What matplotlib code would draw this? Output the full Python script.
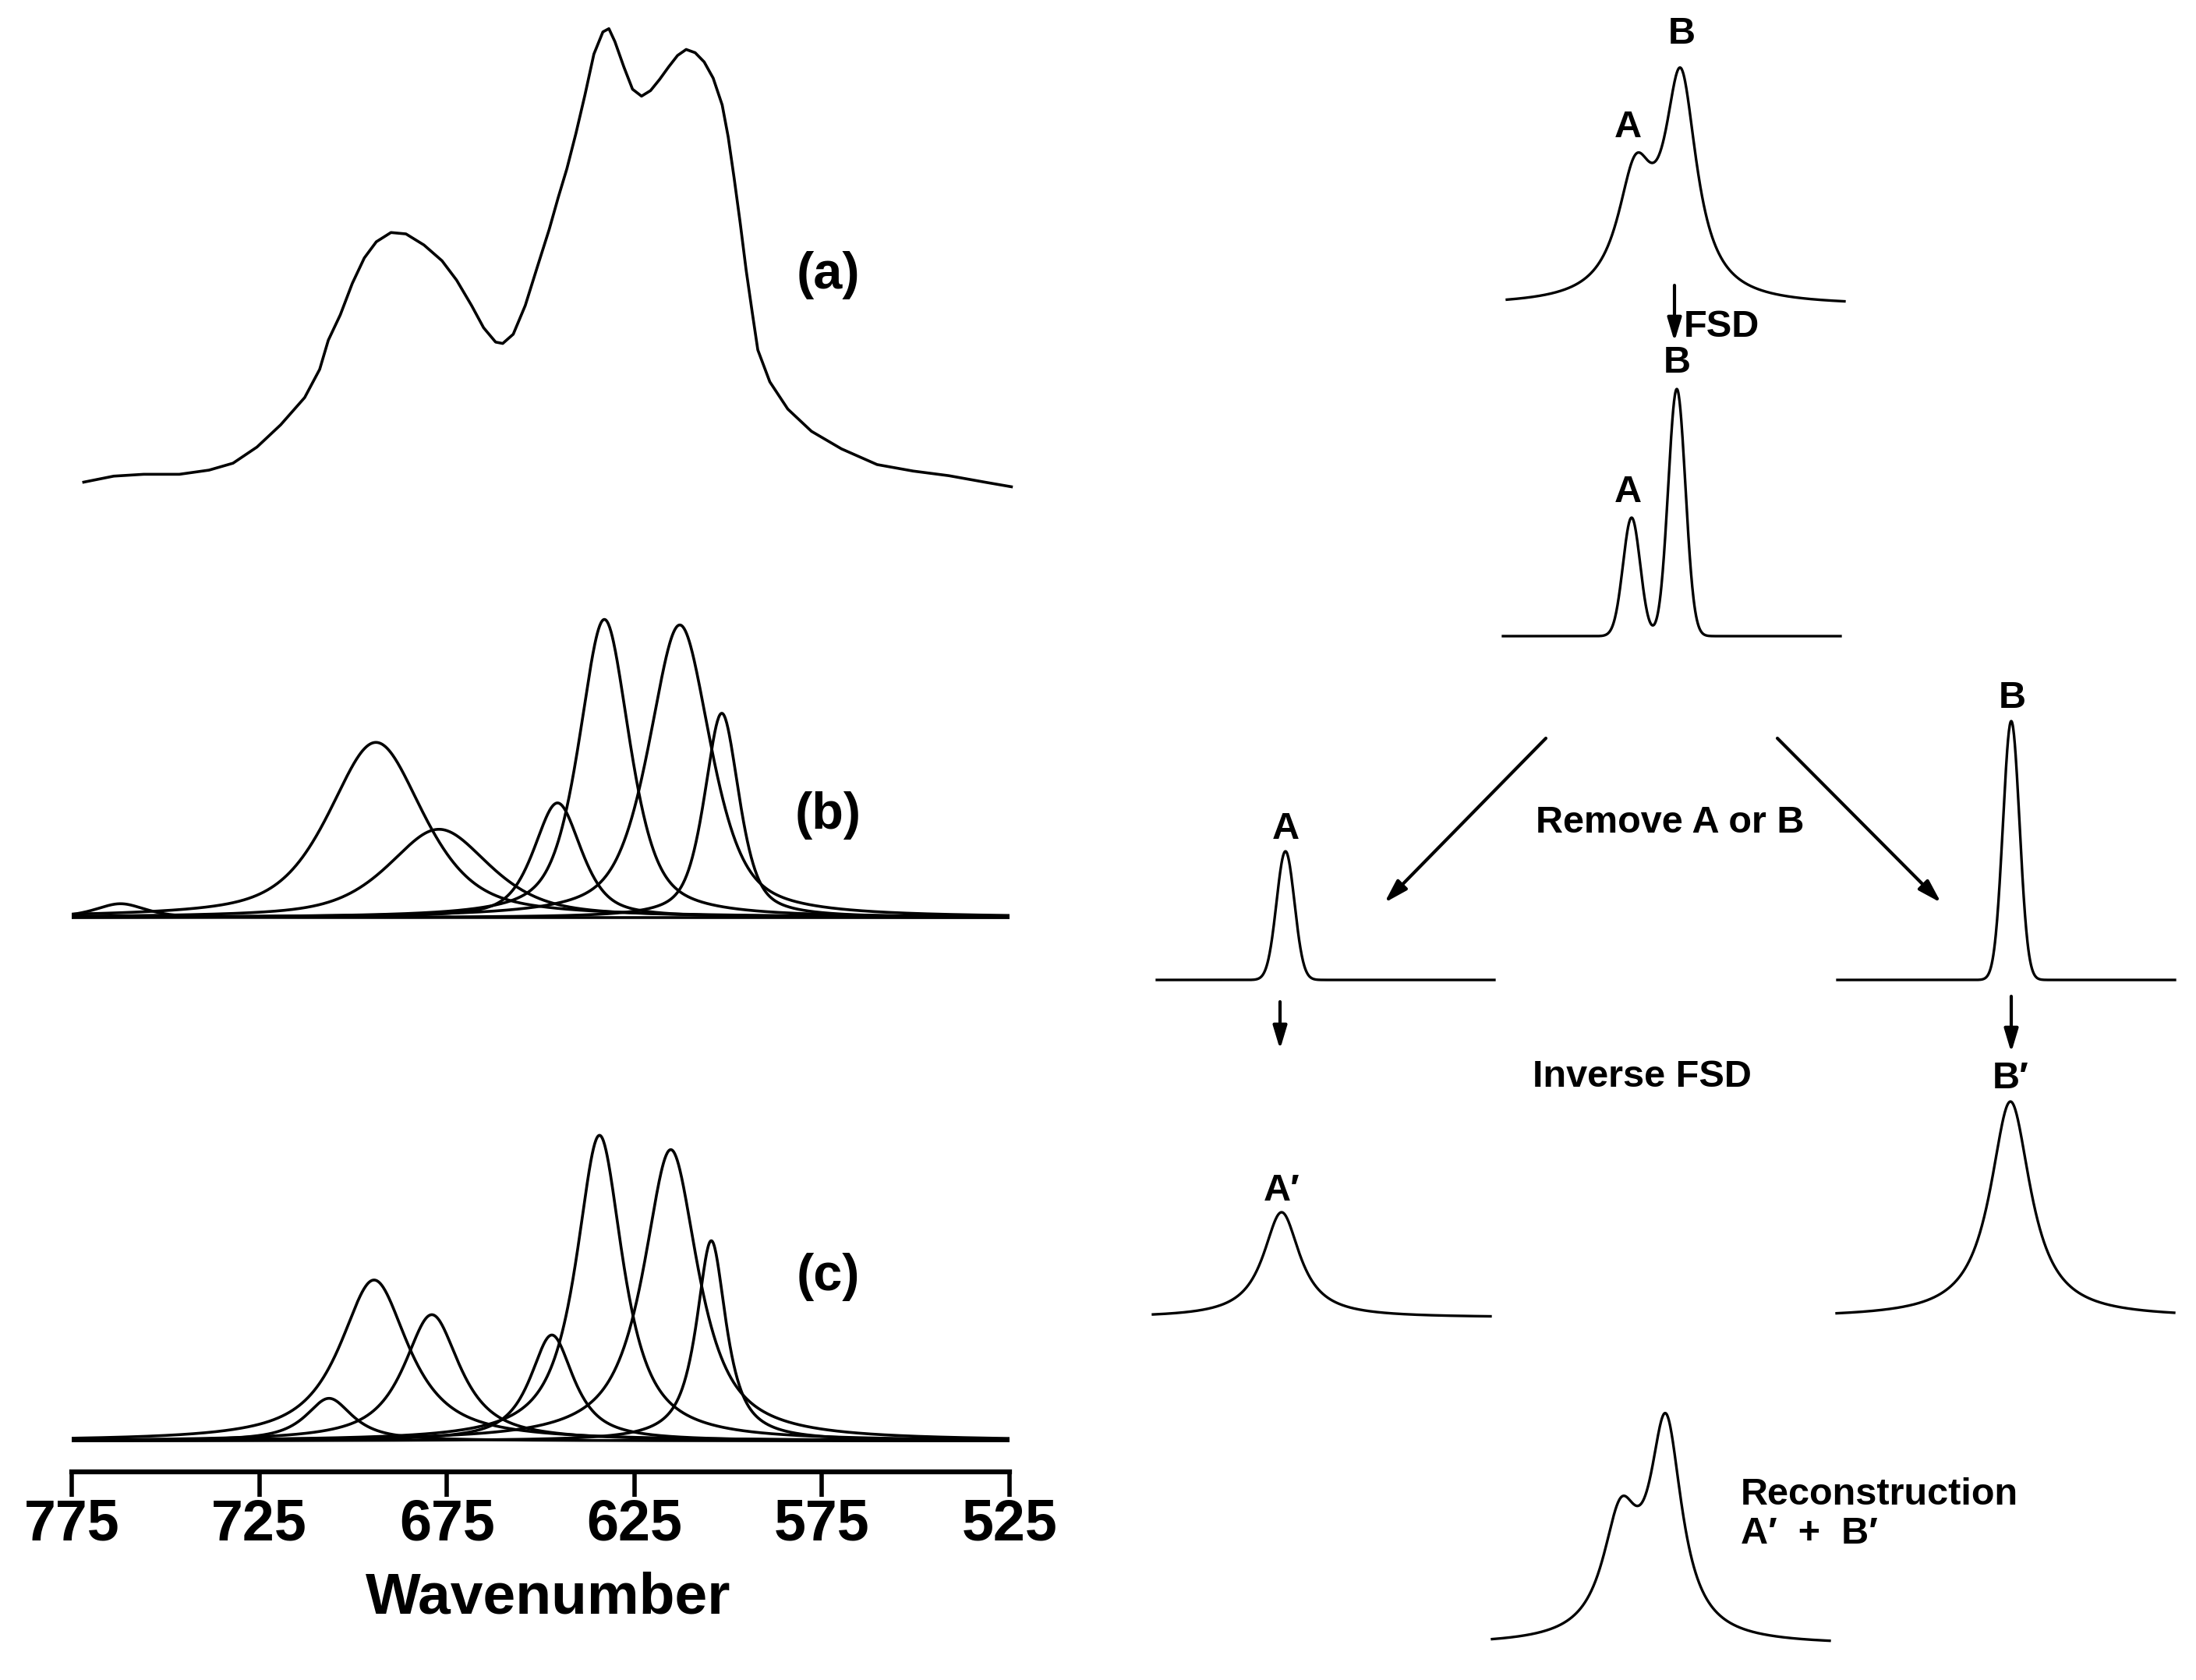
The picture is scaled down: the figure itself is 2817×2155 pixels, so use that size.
import numpy as np
import matplotlib.pyplot as plt
from matplotlib.patches import FancyArrowPatch
from matplotlib.ticker import FixedLocator, NullLocator

plt.rcParams['font.family'] = ['Liberation Sans', 'DejaVu Sans']
plt.rcParams['font.weight'] = 'bold'

W, H = 2817, 2155

a_wn = [771.8, 763.8, 755.8, 746.3, 738.4, 732.0, 725.6, 719.3, 712.9, 708.9,
        706.6, 703.4, 700.2, 697.0, 693.8, 689.9, 685.9, 681.1, 676.3, 672.4,
        668.4, 665.2, 662.0, 660.1, 657.3, 654.1, 650.9, 647.7, 645.3, 643.0,
        640.6, 638.2, 635.8, 633.4, 631.8, 630.2, 627.8, 625.5, 623.1, 620.7,
        618.3, 615.9, 613.5, 611.2, 608.8, 606.4, 604.0, 601.6, 600.0, 598.4,
        596.8, 595.2, 593.6, 592.1, 588.9, 584.1, 577.8, 569.8, 560.3, 550.7,
        541.2, 531.6, 524.5]
a_abs = [0.011, 0.024, 0.028, 0.028, 0.037, 0.052, 0.087, 0.135, 0.194, 0.255,
         0.318, 0.373, 0.441, 0.496, 0.531, 0.551, 0.548, 0.524, 0.490, 0.448,
         0.393, 0.345, 0.314, 0.311, 0.331, 0.393, 0.476, 0.558, 0.627, 0.689,
         0.765, 0.848, 0.937, 0.985, 0.992, 0.964, 0.909, 0.861, 0.846, 0.858,
         0.882, 0.909, 0.934, 0.947, 0.940, 0.920, 0.885, 0.827, 0.758, 0.668,
         0.572, 0.469, 0.379, 0.297, 0.228, 0.169, 0.121, 0.083, 0.049, 0.035,
         0.025, 0.011, 0.001]

# (b) band fit: centre, height, fwhm
b_pos = [762.0, 693.9, 677.1, 645.5, 633.0, 612.9, 601.7]
b_height = [0.03, 0.379, 0.191, 0.248, 0.645, 0.633, 0.442]
b_fwhm = [16, 30, 32, 15, 16, 19.5, 11]

# (c) band fit: centre, height, fwhm
c_pos = [706.4, 694.4, 679.0, 647.0, 634.3, 615.3, 604.5]
c_height = [0.092, 0.348, 0.273, 0.229, 0.661, 0.630, 0.433]
c_fwhm = [15, 22, 18, 14, 15, 17.5, 9.5]

wn_ticks = [775, 725, 675, 625, 575, 525]

# FSD scheme, two bands A and B (arbitrary frequency units)
ab_pos = [0, 58]
orig_height = [150.6, 276.5]
orig_fwhm = [56, 50]
fsd_height = [152, 317]
fsd_fwhm = [26, 26]
onlyA_height, onlyA_fwhm = 165, 27
onlyB_height, onlyB_fwhm = 332, 25
invA_height, invA_fwhm = 135, 57
invB_height, invB_fwhm = 277, 63
recon_height = [146.7, 269.3]
recon_fwhm = [56, 50]


def band(x, pos, height, fwhm, eta):
  hw = fwhm / 2.0
  lor = 1.0 / (1.0 + ((x - pos) / hw) ** 2)
  gau = np.exp(-np.log(2) * ((x - pos) / hw) ** 2)
  return height * (eta * lor + (1 - eta) * gau)


def box(left, top, width, height):
  # pixel box measured from the top left corner -> figure fraction
  return [left / W, 1 - (top + height) / H, width / W, height / H]


def label(x, y, s, size=35, ha='center'):
  fig.text(x / W, 1 - y / H, s, ha=ha, va='center', fontsize=size, fontweight='bold')


def arrow(x0, y0, x1, y1):
  fig.add_artist(FancyArrowPatch((x0 / W, 1 - y0 / H), (x1 / W, 1 - y1 / H),
                                 transform=fig.transFigure, color='black', lw=3,
                                 arrowstyle='-|>,head_length=1.0,head_width=0.3',
                                 mutation_scale=18, shrinkA=0, shrinkB=0))


fig = plt.figure(figsize=(W / 100, H / 100), dpi=100)

# ---- left: spectra (a), (b), (c)
ax = fig.add_axes(box(92, 0, 1203, 1888))
ax.set_xlim(775, 525)
ax.set_ylim(0, 3.184)
off_a, off_b, off_c = 2.13, 1.199, 0.067
lw = 2.6

ax.plot(a_wn, np.array(a_abs) + off_a, color='black', lw=lw, clip_on=False)

x = np.linspace(775, 525, 1500)
for p, h, f in zip(b_pos, b_height, b_fwhm):
  ax.plot(x, band(x, p, h, f, 0.6) + off_b, color='black', lw=lw)
for p, h, f in zip(c_pos, c_height, c_fwhm):
  ax.plot(x, band(x, p, h, f, 0.9) + off_c, color='black', lw=lw)

for s in ['top', 'left', 'right']:
  ax.spines[s].set_visible(False)
ax.spines['bottom'].set_linewidth(4.5)
ax.yaxis.set_major_locator(NullLocator())
ax.xaxis.set_major_locator(FixedLocator(wn_ticks))
ax.xaxis.set_minor_locator(NullLocator())
ax.tick_params(axis='x', which='major', direction='out', length=23, width=4, pad=1, labelsize=53)
ax.tick_params(axis='x', which='minor', length=0)
for t in ax.get_xticklabels():
  t.set_fontweight('bold')

label(1062, 353, '(a)', 48)
label(1062, 1046, '(b)', 48)
label(1062, 1638, '(c)', 48)
label(703, 2050, 'Wavenumber', 54)

# ---- right: FSD scheme
nu = np.linspace(-165, 268, 800)


def small(left, base, y):
  sub = fig.add_axes(box(left, base - 400, 433, 400))
  sub.set_xlim(-165, 268)
  sub.set_ylim(0, 400)
  sub.axis('off')
  sub.plot(nu, y, color='black', lw=2.4, clip_on=False)


top = band(nu, ab_pos[0], orig_height[0], orig_fwhm[0], 1) + band(nu, ab_pos[1], orig_height[1], orig_fwhm[1], 1)
small(1933, 392, top)
label(2157, 43, 'B')
label(2088, 163, 'A')
arrow(2148, 366, 2148, 438)
label(2160, 420, 'FSD', ha='left')

fsd = band(nu, ab_pos[0], fsd_height[0], fsd_fwhm[0], 0) + band(nu, ab_pos[1], fsd_height[1], fsd_fwhm[1], 0)
small(1928, 816, fsd)
label(2151, 466, 'B')
label(2088, 631, 'A')

arrow(1983, 947, 1776, 1158)
arrow(2280, 947, 2490, 1158)
label(2142, 1055, 'Remove A or B')

small(1484, 1257, band(nu, ab_pos[0], onlyA_height, onlyA_fwhm, 0))
label(1649, 1063, 'A')
small(2357, 1257, band(nu, ab_pos[1], onlyB_height, onlyB_fwhm, 0))
label(2581, 895, 'B')

arrow(1642, 1285, 1642, 1346)
arrow(2580, 1278, 2580, 1350)
label(2106, 1381, 'Inverse FSD')

small(1479, 1690, band(nu, ab_pos[0], invA_height, invA_fwhm, 1))
label(1644, 1527, 'A\u2032')
small(2356, 1690, band(nu, ab_pos[1], invB_height, invB_fwhm, 1))
label(2579, 1383, 'B\u2032')

recon = band(nu, ab_pos[0], recon_height[0], recon_fwhm[0], 1) + band(nu, ab_pos[1], recon_height[1], recon_fwhm[1], 1)
small(1914, 2110, recon)
label(2233, 1917, 'Reconstruction', ha='left')
label(2233, 1968, 'A\u2032  +  B\u2032', ha='left')

fig.savefig('out.png', dpi=100, facecolor='white')
